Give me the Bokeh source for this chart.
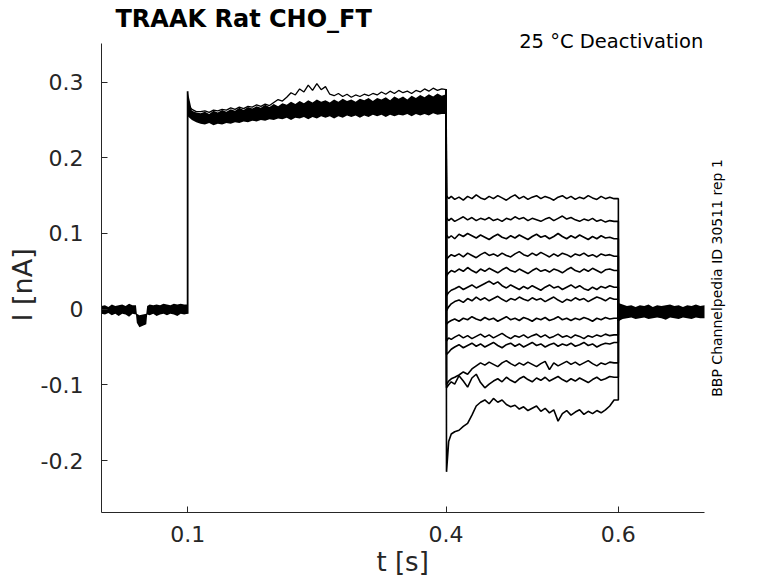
import math
from bokeh.plotting import figure
from bokeh.models import Range1d, FixedTicker, Label, Title
from bokeh.embed import file_html
from bokeh.resources import INLINE

# ---------------- axes / text ----------------
X_START, X_AXIS_END, X_VIEW_END = 0.0, 0.7, 0.7766
Y_START, Y_AXIS_END, Y_VIEW_END = -0.2687, 0.351, 0.4052
X_TICKS = [0.1, 0.4, 0.6]
X_TICK_LABELS = ["0.1", "0.4", "0.6"]
Y_TICKS = [-0.2, -0.1, 0, 0.1, 0.2, 0.3]
Y_TICK_LABELS = ["-0.2", "-0.1", "0", "0.1", "0.2", "0.3"]
TITLE = "TRAAK  Rat  CHO_FT"
CONDITION = "25 \u00b0C  Deactivation"
SOURCE = "BBP Channelpedia ID 30511 rep 1"
X_LABEL = "t [s]"
Y_LABEL = "I [nA]"

# ---------------- data (currents in pA, time in s) ----------------
BASE_T = [0.000, 0.004, 0.008, 0.012, 0.016, 0.020, 0.024, 0.028, 0.032, 0.036,
          0.040, 0.041, 0.044, 0.048, 0.052, 0.053, 0.056, 0.060, 0.064, 0.068,
          0.072, 0.076, 0.080, 0.084, 0.088, 0.092, 0.096, 0.100]
BASE_HI = [4, 5, 3, 6, 4, 5, 6, 4, 7, 5, 5, -6, -8, -7, -6, 4, 6, 5, 6, 5, 7, 6, 5, 7, 6, 7, 6, 6]
BASE_LO = [-6, -7, -5, -8, -6, -9, -6, -7, -10, -6, -7, -18, -24, -22, -20, -7, -8, -6, -9, -7,
           -6, -8, -6, -7, -9, -6, -7, -6]

PRE_T = [round(0.100 + 0.005 * i, 3) for i in range(61)]
PRE_HI = [288, 262, 260, 259, 261, 258, 262, 260, 263, 261,
          264, 262, 266, 263, 267, 265, 268, 266, 270, 267,
          271, 268, 272, 270, 274, 271, 275, 272, 276, 273,
          277, 274, 276, 273, 277, 274, 278, 275, 277, 274,
          278, 276, 279, 275, 279, 277, 280, 276, 281, 278,
          281, 277, 282, 279, 283, 280, 284, 281, 285, 282,
          284]
PRE_LO = [255, 250, 247, 245, 244, 246, 243, 245, 244, 246,
          245, 247, 246, 248, 247, 249, 248, 250, 249, 251,
          250, 252, 251, 253, 250, 253, 252, 254, 251, 254,
          252, 255, 253, 255, 252, 255, 253, 256, 254, 256,
          253, 256, 254, 257, 255, 257, 254, 257, 255, 257,
          256, 258, 255, 258, 256, 258, 256, 259, 257, 258,
          258]
PRE_OUT = [270, 264, 261, 261, 262, 260, 263, 262, 264, 263,
           266, 264, 267, 265, 268, 267, 270, 268, 271, 269,
           273, 277, 275, 280, 286, 283, 291, 287, 296, 289,
           298, 290, 294, 284, 282, 285, 281, 284, 280, 283,
           281, 284, 282, 285, 283, 287, 284, 288, 285, 289,
           286, 288, 285, 289, 287, 291, 288, 292, 289, 291,
           290]

TEST_T = [0.4005, 0.403, 0.406, 0.410] + [round(0.415 + 0.005 * i, 3) for i in range(37)]
TRACE_01 = [150, 146, 149, 145, 148, 144, 149, 146, 151, 147,
            145, 149, 146, 150, 147, 144, 148, 151, 146, 149,
            145, 148, 150, 146, 149, 147, 144, 148, 150, 146,
            149, 145, 148, 146, 150, 147, 145, 149, 146, 148, 146]
TRACE_02 = [121, 117, 120, 116, 119, 122, 118, 121, 117, 120,
            118, 121, 117, 119, 116, 120, 118, 122, 119, 121,
            117, 120, 118, 116, 119, 121, 117, 120, 123, 119,
            121, 118, 116, 119, 117, 120, 116, 118, 115, 117, 116]
TRACE_03 = [98, 94, 97, 93, 99, 96, 100, 97, 94, 98,
            95, 92, 96, 99, 95, 93, 97, 94, 98, 95,
            92, 96, 99, 95, 97, 93, 96, 100, 96, 93,
            97, 94, 98, 95, 92, 96, 93, 97, 94, 95, 93]
TRACE_04 = [66, 69, 72, 70, 73, 69, 74, 71, 68, 72,
            75, 71, 73, 70, 74, 71, 69, 73, 76, 72,
            70, 74, 71, 75, 72, 69, 73, 70, 74, 72,
            69, 73, 71, 74, 70, 72, 69, 73, 71, 72, 70]
TRACE_05 = [44, 48, 51, 49, 53, 50, 55, 51, 48, 53,
            50, 54, 51, 48, 52, 55, 51, 49, 53, 50,
            47, 51, 54, 50, 52, 49, 53, 51, 48, 52,
            55, 51, 49, 53, 50, 54, 51, 48, 52, 53, 51]
TRACE_06 = [18, 22, 25, 27, 30, 26, 29, 32, 28, 31,
            34, 37, 33, 36, 31, 28, 32, 29, 26, 30,
            27, 31, 28, 25, 29, 32, 28, 30, 26, 29,
            32, 28, 31, 27, 25, 29, 26, 30, 28, 31, 29]
TRACE_07 = [-2, 3, 7, 10, 12, 9, 14, 11, 16, 12,
            15, 11, 14, 17, 13, 10, 14, 12, 16, 13,
            11, 15, 12, 14, 10, 13, 16, 12, 9, 13,
            11, 15, 12, 14, 10, 13, 16, 14, 11, 15, 13]
TRACE_08 = [-20, -17, -15, -13, -16, -12, -14, -10, -13, -15,
            -11, -14, -12, -16, -13, -10, -14, -12, -15, -11,
            -13, -16, -12, -14, -11, -15, -13, -10, -14, -12,
            -15, -12, -14, -11, -13, -16, -12, -14, -11, -13, -12]
TRACE_09 = [-42, -38, -40, -37, -34, -38, -35, -39, -36, -33,
            -37, -34, -38, -35, -32, -36, -39, -35, -37, -34,
            -38, -35, -33, -37, -34, -38, -36, -33, -37, -35,
            -38, -34, -36, -39, -35, -37, -34, -36, -33, -35, -34]
TRACE_10 = [-60, -57, -53, -50, -47, -51, -48, -45, -49, -46,
            -50, -47, -44, -48, -51, -47, -45, -49, -46, -50,
            -47, -44, -48, -46, -50, -47, -45, -49, -46, -48,
            -45, -49, -47, -44, -48, -46, -50, -47, -45, -46, -44]
TRACE_11 = [-100, -95, -92, -90, -87, -83, -86, -79, -75, -71,
            -74, -70, -73, -76, -71, -68, -72, -75, -71, -74,
            -70, -73, -76, -72, -69, -80, -71, -75, -72, -69,
            -73, -70, -74, -71, -68, -72, -75, -71, -73, -70, -71]
TRACE_12 = [-104, -100, -96, -99, -88, -95, -103, -91, -86, -97,
            -104, -99, -95, -92, -96, -90, -94, -97, -92, -89,
            -93, -96, -91, -94, -90, -95, -92, -89, -93, -96,
            -92, -95, -91, -94, -97, -93, -90, -94, -92, -89, -90]
TRACE_13 = [-215, -175, -165, -162, -160, -155, -151, -140, -128, -123,
            -120, -125, -118, -123, -120, -126, -129, -127, -132, -129,
            -134, -131, -128, -135, -131, -137, -133, -148, -138, -134,
            -140, -136, -133, -139, -135, -138, -134, -137, -133, -128, -120]
TEST_TRACES = [TRACE_01, TRACE_02, TRACE_03, TRACE_04, TRACE_05, TRACE_06, TRACE_07,
               TRACE_08, TRACE_09, TRACE_10, TRACE_11, TRACE_12, TRACE_13]

POST_T = [round(0.600 + 0.005 * i, 3) for i in range(21)]
POST_HI = [8, 6, 4, 5, 3, 5, 4, 6, 3, 5, 4, 5, 6, 4, 5, 3, 5, 4, 6, 4, 5]
POST_LO = [-16, -13, -12, -11, -13, -12, -11, -13, -12, -11, -12, -14, -11, -12, -13, -11,
           -12, -13, -11, -12, -12]


def nA(vals):
    return [v / 1000.0 for v in vals]


FONT = "DejaVu Sans"
AX_COLOR = "#262626"

p = figure(width=778, height=583,
           x_range=Range1d(X_START, X_VIEW_END), y_range=Range1d(Y_START, Y_VIEW_END),
           output_backend="svg", toolbar_location=None, title_location=None,
           min_border_left=101, min_border_right=8, min_border_top=2, min_border_bottom=71)
p.outline_line_color = None
p.grid.visible = False
p.background_fill_color = "white"
p.border_fill_color = "white"

p.varea(x=BASE_T, y1=nA(BASE_LO), y2=nA(BASE_HI), fill_color="black")
p.varea(x=PRE_T, y1=nA(PRE_LO), y2=nA(PRE_HI), fill_color="black")
p.varea(x=POST_T, y1=nA(POST_LO), y2=nA(POST_HI), fill_color="black")
p.line(x=PRE_T, y=nA(PRE_OUT), line_color="black", line_width=1.3)
p.line(x=[BASE_T[-1], PRE_T[0]], y=nA([BASE_LO[-1], PRE_HI[0]]), line_color="black", line_width=1.8)

for tr in TEST_TRACES:
    xs = [PRE_T[-1]] + TEST_T + [POST_T[0], POST_T[0]]
    ys = nA([PRE_OUT[-1]] + tr + [tr[-1], POST_LO[0]])
    p.line(x=xs, y=ys, line_color="black", line_width=1.6)

for ax in (p.xaxis[0], p.yaxis[0]):
    ax.axis_line_color = AX_COLOR
    ax.axis_line_width = 1
    ax.major_tick_line_color = AX_COLOR
    ax.major_tick_in = 6
    ax.major_tick_out = 0
    ax.minor_tick_line_color = None
    ax.major_label_text_font = FONT
    ax.major_label_text_font_size = "22px"
    ax.major_label_text_color = AX_COLOR

p.xaxis.bounds = (X_START, X_AXIS_END)
p.yaxis.bounds = (Y_START, Y_AXIS_END)
p.xaxis.ticker = FixedTicker(ticks=X_TICKS)
p.xaxis.major_label_overrides = dict(zip(X_TICKS, X_TICK_LABELS))
p.yaxis.ticker = FixedTicker(ticks=Y_TICKS)
p.yaxis.major_label_overrides = dict(zip(Y_TICKS, Y_TICK_LABELS))
p.xaxis.major_label_standoff = 13
p.yaxis.major_label_standoff = 18

p.add_layout(Title(text=X_LABEL, align="left", offset=275, standoff=0,
                   text_font=FONT, text_font_size="26px", text_font_style="normal",
                   text_color=AX_COLOR), "below")
p.add_layout(Title(text=Y_LABEL, align="left", offset=191, standoff=0,
                   text_font=FONT, text_font_size="27px", text_font_style="normal",
                   text_color=AX_COLOR), "left")

p.add_layout(Label(x=X_START, y=Y_AXIS_END, x_offset=14, y_offset=25, text=TITLE,
                   text_font=FONT, text_font_style="bold", text_font_size="24px",
                   text_align="left", text_baseline="alphabetic", text_color="black"))
p.add_layout(Label(x=X_AXIS_END, y=Y_AXIS_END, x_offset=5, y_offset=2, text=CONDITION,
                   text_font=FONT, text_font_size="19.5px",
                   text_align="right", text_baseline="alphabetic", text_color="black"))
p.add_layout(Label(x=X_AXIS_END, y=0.0412, x_offset=12, angle=math.pi / 2,
                   text=SOURCE, text_font=FONT, text_font_size="14px",
                   text_align="center", text_baseline="middle", text_color="black"))

open("out.html", "w").write(file_html(p, INLINE))
